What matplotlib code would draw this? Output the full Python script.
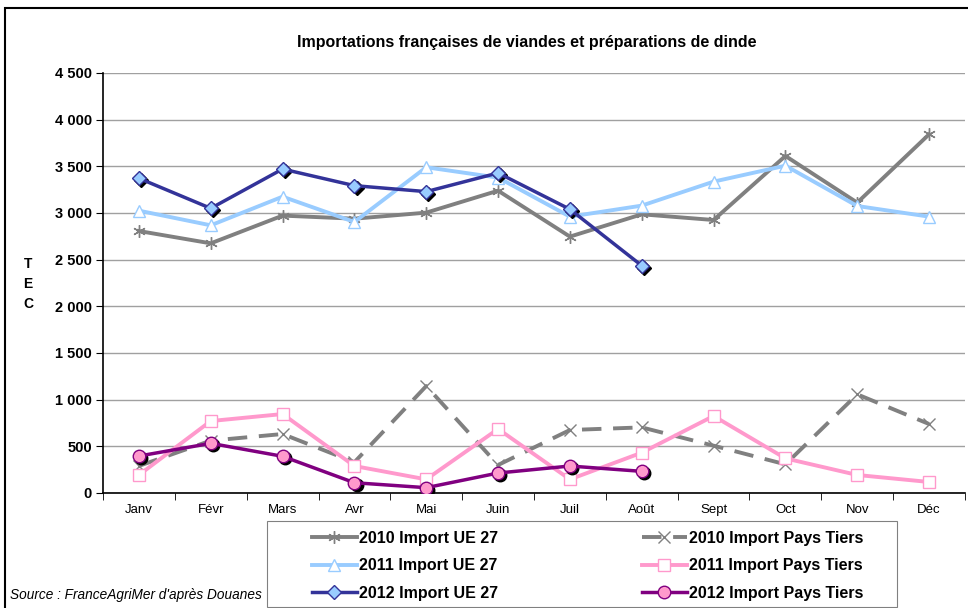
import numpy as np
import matplotlib
matplotlib.use("Agg")
import matplotlib.pyplot as plt
import matplotlib.transforms as mtransforms
from matplotlib.patches import Rectangle

plt.rcParams['font.family'] = ['Liberation Sans', 'DejaVu Sans']

months = ["Janv", "Févr", "Mars", "Avr", "Mai", "Juin", "Juil", "Août", "Sept", "Oct", "Nov", "Déc"]

ue_2010 = [2807, 2675, 2972, 2939, 3004, 3239, 2747, 2986, 2925, 3611, 3111, 3843]
ue_2011 = [3025, 2868, 3175, 2904, 3490, 3379, 2961, 3079, 3336, 3507, 3075, 2961]
ue_2012 = [3372, 3050, 3471, 3293, 3229, 3429, 3040, 2436]

pt_2010 = [290, 561, 632, 330, 1146, 300, 675, 703, 507, 307, 1057, 739]
pt_2011 = [193, 771, 846, 289, 146, 686, 146, 432, 825, 371, 193, 118]
pt_2012 = [396, 532, 393, 110, 57, 214, 289, 232]

yticks = [0, 500, 1000, 1500, 2000, 2500, 3000, 3500, 4000, 4500]
ytick_labels = ["0", "500", "1 000", "1 500", "2 000", "2 500", "3 000", "3 500", "4 000", "4 500"]

fig = plt.figure(figsize=(9.68, 6.08), dpi=100)
ax = fig.add_axes([103 / 968, 1 - 493 / 608, (965 - 103) / 968, (493 - 73) / 608])

x12 = np.arange(12)
x8 = np.arange(8)

# shadow offset for 2012 markers
shadow = mtransforms.offset_copy(ax.transData, fig=fig, x=1.5, y=-1.5, units='points')

l1, = ax.plot(x12, ue_2010, color='#808080', lw=2.8, marker=(6, 2, 0), ms=9,
              mec='#808080', mew=1, zorder=3, label="2010 Import UE 27")
l2, = ax.plot(x12, ue_2011, color='#99CCFF', lw=2.8, marker='^', ms=9,
              mfc='white', mec='#99CCFF', mew=1, zorder=3, label="2011 Import UE 27")
ax.plot(x8, ue_2012, ls='none', marker='D', ms=7, color='black', transform=shadow, zorder=4)
l3, = ax.plot(x8, ue_2012, color='#333399', lw=2.5, marker='D', ms=7,
              mfc='#99CCFF', mec='#333399', mew=1, zorder=5, label="2012 Import UE 27")

l4, = ax.plot(x12, pt_2010, color='#808080', lw=2.8, ls=(0, (5, 3)), marker='x', ms=8,
              mec='#808080', mew=1, zorder=3, label="2010 Import Pays Tiers")
l5, = ax.plot(x12, pt_2011, color='#FF99CC', lw=2.8, marker='s', ms=9,
              mfc='white', mec='#FF99CC', mew=1, zorder=3, label="2011 Import Pays Tiers")
ax.plot(x8, pt_2012, ls='none', marker='o', ms=9, color='black', transform=shadow, zorder=4)
l6, = ax.plot(x8, pt_2012, color='#800080', lw=2.5, marker='o', ms=9,
              mfc='#FF99CC', mec='#800080', mew=1, zorder=5, label="2012 Import Pays Tiers")

ax.set_xlim(-0.5, 11.5)
ax.set_ylim(0, 4500)
ax.set_yticks(yticks)
ax.set_yticklabels(ytick_labels, fontsize=10.5, fontweight='bold')
ax.set_xticks(x12)
ax.set_xticklabels(months, fontsize=9.5)
ax.set_xticks(np.arange(-0.5, 12, 1), minor=True)
ax.tick_params(axis='x', which='major', length=0, pad=8)
ax.tick_params(axis='x', which='minor', length=5, direction='out')
ax.tick_params(axis='y', length=5, direction='out', pad=3)
ax.yaxis.grid(True, color='#A0A0A0', lw=1)
ax.set_axisbelow(True)
for s in ['top', 'right']:
    ax.spines[s].set_visible(False)
ax.spines['left'].set_linewidth(1.2)
ax.spines['bottom'].set_linewidth(1.2)

fig.text(527 / 968, 1 - 42 / 608, "Importations françaises de viandes et préparations de dinde",
         ha='center', va='center', fontsize=11.5, fontweight='bold')
fig.text(28 / 968, 1 - 284 / 608, "T\nE\nC", ha='center', va='center', fontsize=10,
         fontweight='bold', linespacing=1.5)
fig.text(10 / 968, 1 - 595 / 608, "Source : FranceAgriMer d'après Douanes", ha='left', va='center',
         fontsize=9.8, style='italic')

leg = fig.legend(handles=[l1, l2, l3, l4, l5, l6], ncol=2, loc='upper left',
                 bbox_to_anchor=(312 / 968, 1 - 531 / 608), prop={'weight': 'bold', 'size': 11.5},
                 frameon=False, handlelength=2.8, handletextpad=0.15, columnspacing=9.0,
                 labelspacing=0.78, borderpad=0, borderaxespad=0)

# legend frame
fig.patches.append(Rectangle((267 / 968, 1 - 607 / 608), (897 - 267) / 968, (607 - 521) / 608,
                             transform=fig.transFigure, fill=False, edgecolor='#808080', lw=0.8))

# outer frame
fig.patches.append(Rectangle((5 / 968, -0.01), 1.1, 1 - 8 / 608 + 0.01, transform=fig.transFigure,
                             fill=False, edgecolor='black', lw=1.5))

fig.savefig("out.png", dpi=100)
